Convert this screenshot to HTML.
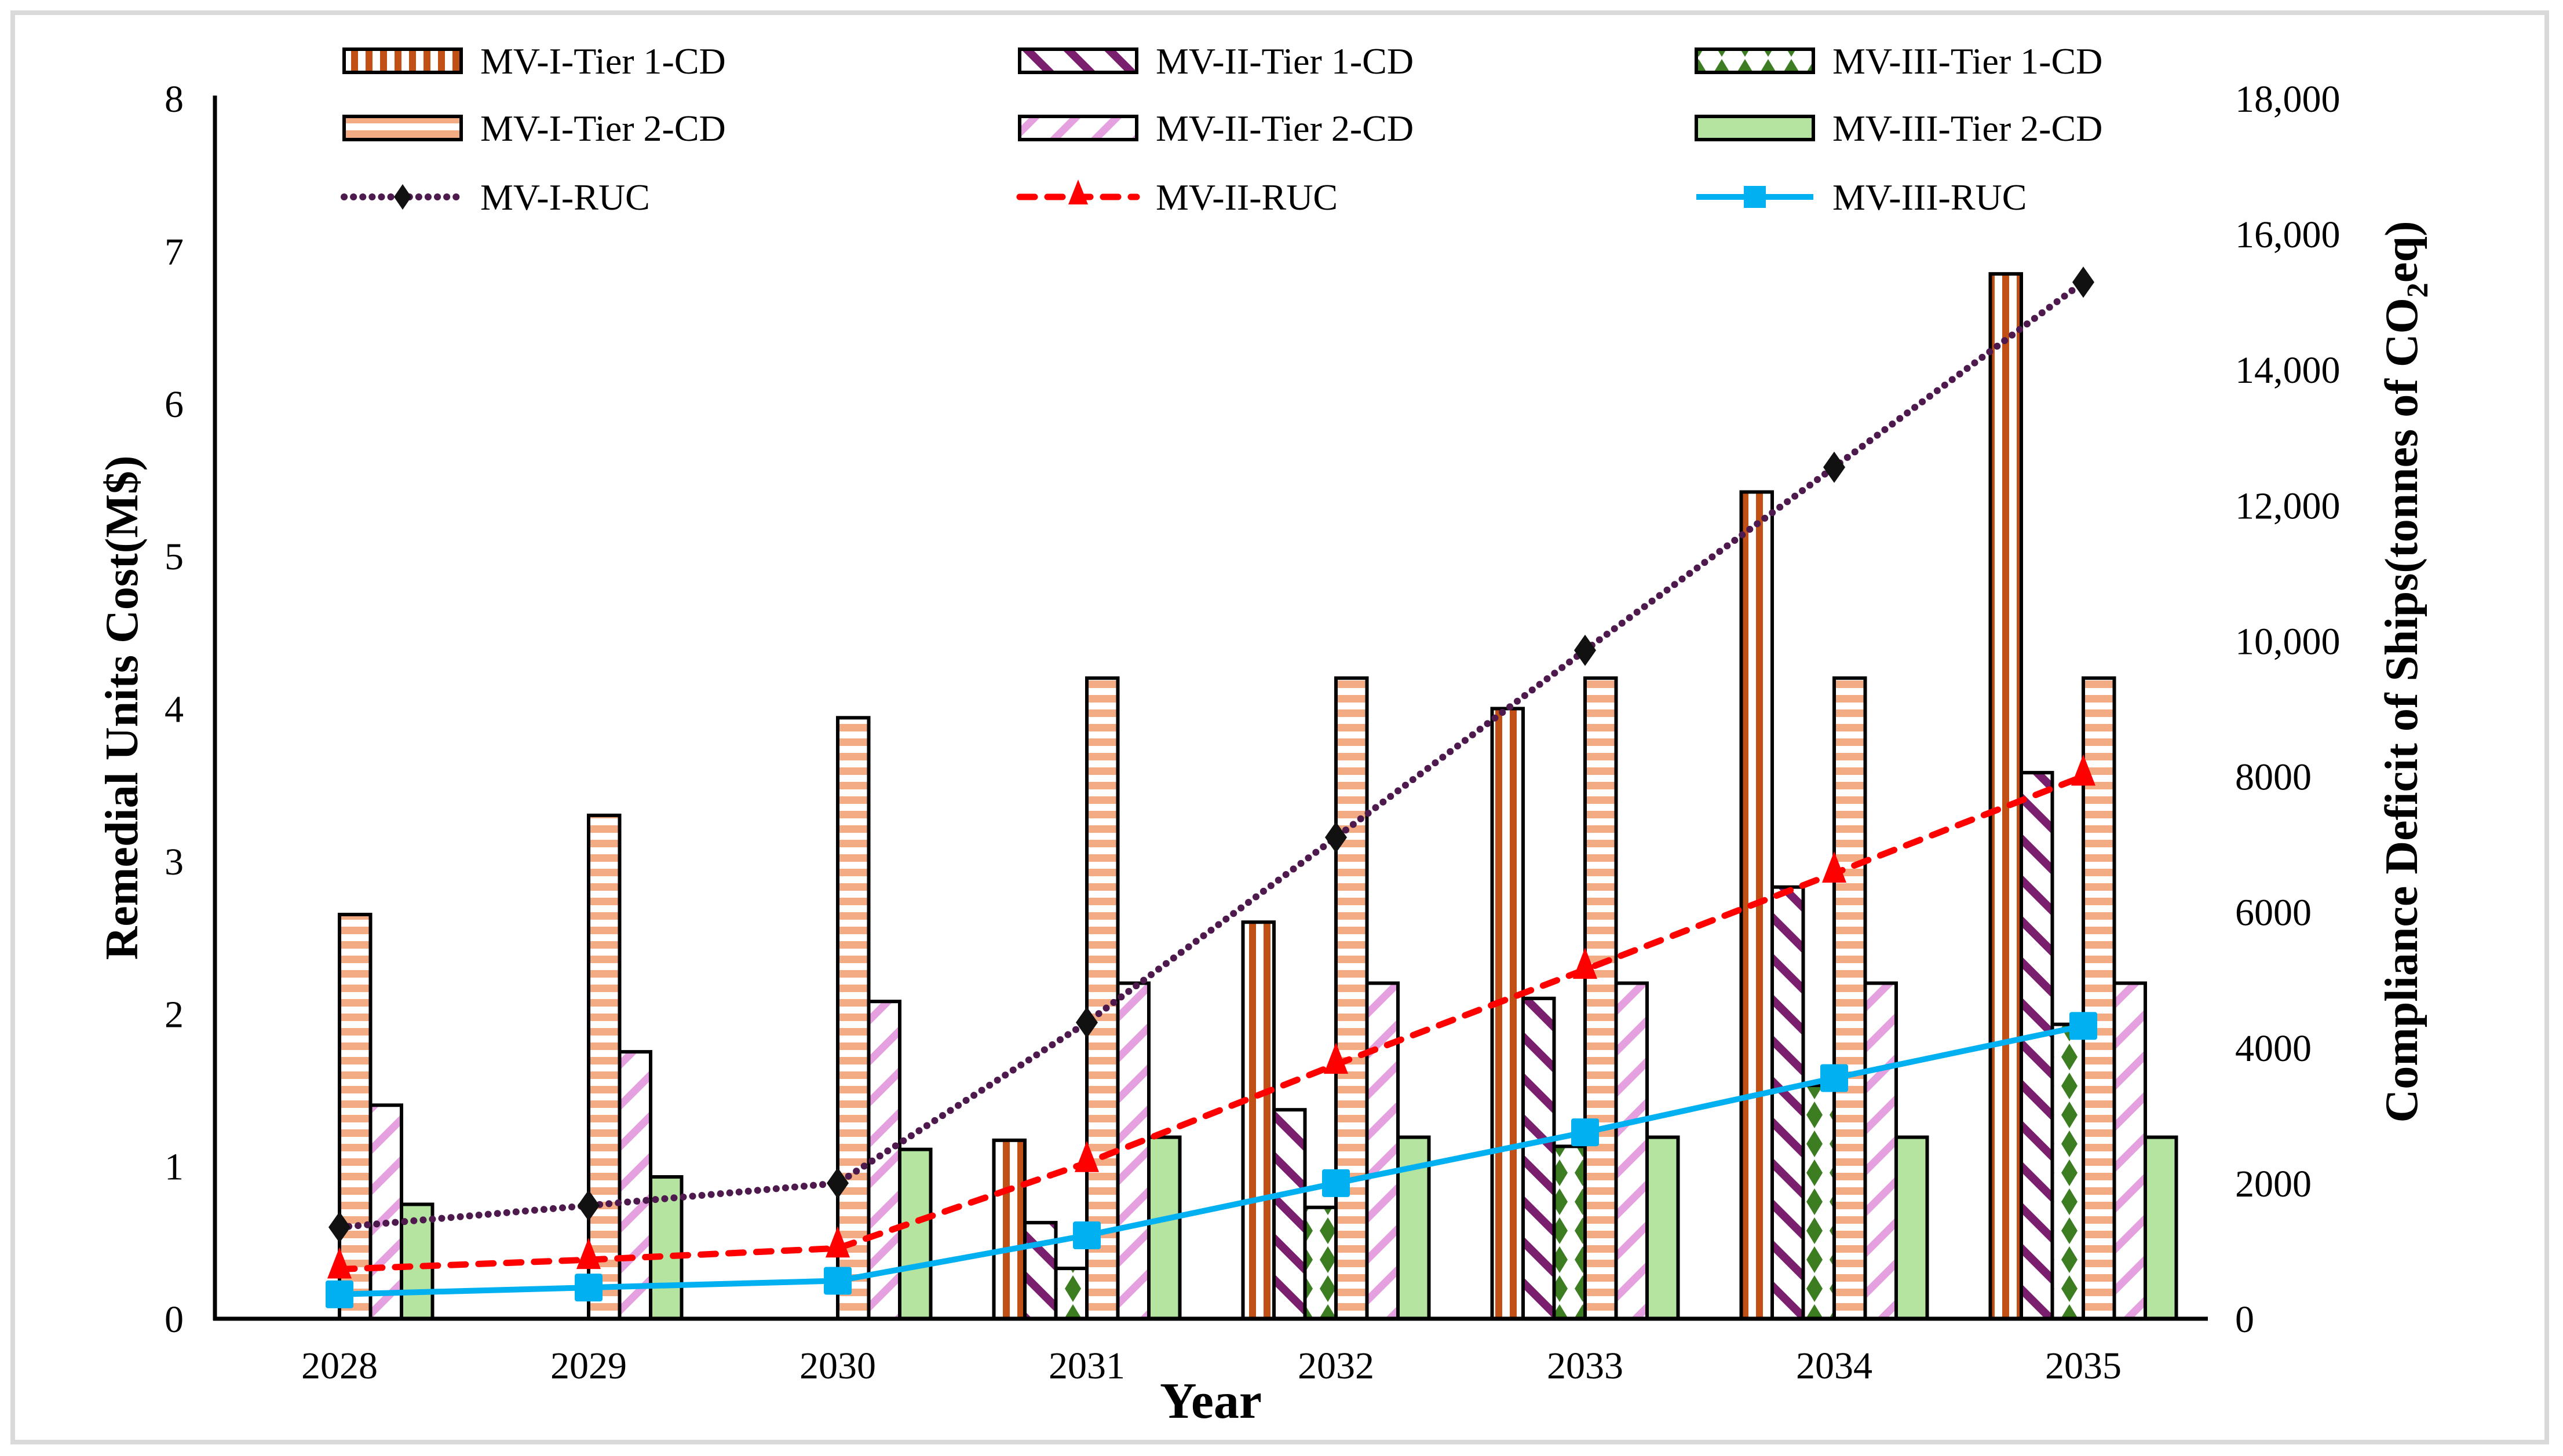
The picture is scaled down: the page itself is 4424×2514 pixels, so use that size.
<!DOCTYPE html>
<html><head><meta charset="utf-8"><style>
html,body{margin:0;padding:0;background:#fff;}
svg{display:block;font-family:"Liberation Serif",serif;}
text{font-family:"Liberation Serif",serif;}
</style></head><body>
<svg id="chart" width="4424" height="2514" viewBox="0 0 4424 2514" xmlns="http://www.w3.org/2000/svg" font-family="Liberation Serif, serif">
<defs>
<pattern id="p-v" patternUnits="userSpaceOnUse" width="25" height="25"><rect width="25" height="25" fill="#fff"/><rect x="6" width="12" height="25" fill="#c05016"/></pattern>
<pattern id="p-d1" patternUnits="userSpaceOnUse" width="50" height="50" patternTransform="rotate(45)"><rect width="50" height="50" fill="#fff"/><rect y="0" width="50" height="14" fill="#7a1f6d"/></pattern>
<pattern id="p-dm" patternUnits="userSpaceOnUse" width="40" height="50"><rect width="40" height="50" fill="#fff"/><polygon points="12,2 26,25 12,48 -2,25" fill="#3d7d22"/><polygon points="52,2 66,25 52,48 38,25" fill="#3d7d22"/></pattern>
<pattern id="p-h" patternUnits="userSpaceOnUse" width="25" height="25"><rect width="25" height="25" fill="#fff"/><rect y="0" width="25" height="13" fill="#f2ab83"/></pattern>
<pattern id="p-d2" patternUnits="userSpaceOnUse" width="50" height="50" patternTransform="rotate(-45)"><rect width="50" height="50" fill="#fff"/><rect y="0" width="50" height="13" fill="#e4a0df"/></pattern>
</defs>
<rect x="22" y="22" width="4374" height="2468" fill="#fff" stroke="#d9d9d9" stroke-width="8"/>
<g id="bars"></g><g id="lines"></g><g id="axes"></g><g id="legend"></g>
</svg>
<script>
const years=['2028','2029','2030','2031','2032','2033','2034','2035'];
const mv1t1=[0,0,0,1.17,2.6,4.0,5.42,6.85];
const mv2t1=[0,0,0,0.63,1.37,2.1,2.83,3.58];
const mv3t1=[0,0,0,0.33,0.73,1.13,1.53,1.93];
const mv1t2=[2.65,3.3,3.94,4.2,4.2,4.2,4.2,4.2];
const mv2t2=[1.4,1.75,2.08,2.2,2.2,2.2,2.2,2.2];
const mv3t2=[0.75,0.93,1.11,1.19,1.19,1.19,1.19,1.19];
const ruc1=[1350,1670,2000,4370,7100,9860,12560,15290];
const ruc2=[730,870,1040,2300,3750,5150,6570,8000];
const ruc3=[360,460,560,1230,2000,2750,3550,4320];
const leftTicks=['0','1','2','3','4','5','6','7','8'];
const rightTicks=['0','2000','4000','6000','8000','10,000','12,000','14,000','16,000','18,000'];

const NS='http://www.w3.org/2000/svg';
const FF='Liberation Serif, serif';
const X0=371,X1=3811,Y0=2277,Y1=170;
const band=(X1-X0)/years.length;
const xc=i=>X0+band*(i+0.5);
const yL=v=>Y0-(v/8)*(Y0-Y1);
const yR=v=>Y0-(v/18000)*(Y0-Y1);
function mk(tag,attrs,parent){const e=document.createElementNS(NS,tag);for(const k in attrs)e.setAttribute(k,attrs[k]);if(tag==='text')e.setAttribute('font-family',FF);parent.appendChild(e);return e;}
const gB=document.getElementById('bars'),gL=document.getElementById('lines'),gA=document.getElementById('axes'),gG=document.getElementById('legend');
const bw=53.5;
const series=[[mv1t1,'url(#p-v)','mv-i-tier1-bar'],[mv2t1,'url(#p-d1)','mv-ii-tier1-bar'],[mv3t1,'url(#p-dm)','mv-iii-tier1-bar'],[mv1t2,'url(#p-h)','mv-i-tier2-bar'],[mv2t2,'url(#p-d2)','mv-ii-tier2-bar'],[mv3t2,'#b5e3a0','mv-iii-tier2-bar']];
series.forEach((s,si)=>{
  s[0].forEach((v,i)=>{
    if(v<=0)return;
    const x=xc(i)-3*bw+si*bw;
    const r=mk('rect',{x:x,y:yL(v),width:bw,height:Y0-yL(v),fill:s[1],stroke:'#000','stroke-width':6},gB);
    
    
  });
});
function line(vals,color,dash,w,name,marker){
  const pts=vals.map((v,i)=>xc(i)+','+yR(v)).join(' ');
  const p=mk('polyline',{points:pts,fill:'none',stroke:color,'stroke-width':w,'stroke-dasharray':dash,'stroke-linecap':'round'},gL);
  
  
  vals.forEach((v,i)=>{
    const m=marker(xc(i),yR(v));
    
    
  });
}
const diamond=(x,y)=>mk('polygon',{points:`${x},${y-27} ${x+19},${y} ${x},${y+27} ${x-19},${y}`,fill:'#111'},gL);
const tri=(x,y)=>mk('polygon',{points:`${x},${y-38} ${x+21},${y+16} ${x-21},${y+16}`,fill:'#f00'},gL);
const sq=(x,y)=>mk('rect',{x:x-24,y:y-24,width:48,height:48,rx:4,fill:'#00b0f0'},gL);
line(ruc1,'#4e1a4e','0.1 16',12,'mv-i-ruc',diamond);
line(ruc2,'#f00','26 22',11,'mv-ii-ruc',tri);
line(ruc3,'#00b0f0','none',10,'mv-iii-ruc',sq);

let a=mk('line',{x1:X0,y1:Y1-5,x2:X0,y2:Y0+3,stroke:'#000','stroke-width':7},gA);

a=mk('line',{x1:X0-3,y1:Y0,x2:X1,y2:Y0,stroke:'#000','stroke-width':7},gA);

leftTicks.forEach(t=>{
  const e=mk('text',{x:317,y:yL(+t)+23,'font-size':66,'text-anchor':'end'},gA);e.textContent=t;
  
});
rightTicks.forEach(t=>{
  const e=mk('text',{x:3858,y:yR(+t.replace(',',''))+23,'font-size':66},gA);e.textContent=t;
  
});
years.forEach((t,i)=>{
  const e=mk('text',{x:xc(i),y:2380,'font-size':66,'text-anchor':'middle'},gA);e.textContent=t;
  
});
let e=mk('text',{x:2090,y:2448,'font-size':88,'font-weight':'bold','text-anchor':'middle'},gA);e.textContent='Year';

e=mk('text',{x:0,y:0,'font-size':80,'font-weight':'bold','text-anchor':'middle',transform:'translate(237,1222) rotate(-90)'},gA);e.textContent='Remedial Units Cost(M$)';

e=mk('text',{x:0,y:0,'font-size':80,'font-weight':'bold','text-anchor':'middle',transform:'translate(4172,1160) rotate(-90)'},gA);
e.innerHTML='Compliance Deficit of Ships(tonnes of CO<tspan font-size="52" dy="18">2</tspan><tspan dy="-18">eq)</tspan>';


const legCols=[594,1760,2928],legRows=[105,221,340];
const legItems=[['MV-I-Tier 1-CD','bar','url(#p-v)'],['MV-II-Tier 1-CD','bar','url(#p-d1)'],['MV-III-Tier 1-CD','bar','url(#p-dm)'],
['MV-I-Tier 2-CD','bar','url(#p-h)'],['MV-II-Tier 2-CD','bar','url(#p-d2)'],['MV-III-Tier 2-CD','bar','#b5e3a0'],
['MV-I-RUC','l1'],['MV-II-RUC','l2'],['MV-III-RUC','l3']];
legItems.forEach((it,k)=>{
  const x=legCols[k%3],y=legRows[Math.floor(k/3)];
  const g=mk('g',{},gG);
  
  
  if(it[1]==='bar'){mk('rect',{x:x,y:y-20,width:202,height:40,fill:it[2],stroke:'#000','stroke-width':6},g);}
  else if(it[1]==='l1'){mk('line',{x1:x,y1:y,x2:x+202,y2:y,stroke:'#4e1a4e','stroke-width':12,'stroke-dasharray':'0.1 16','stroke-linecap':'round'},g);mk('polygon',{points:`${x+101},${y-22} ${x+116},${y} ${x+101},${y+22} ${x+86},${y}`,fill:'#111'},g);}
  else if(it[1]==='l2'){mk('line',{x1:x,y1:y,x2:x+202,y2:y,stroke:'#f00','stroke-width':11,'stroke-dasharray':'26 22','stroke-linecap':'round'},g);mk('polygon',{points:`${x+101},${y-30} ${x+118},${y+13} ${x+84},${y+13}`,fill:'#f00'},g);}
  else {mk('line',{x1:x,y1:y,x2:x+202,y2:y,stroke:'#00b0f0','stroke-width':10},g);mk('rect',{x:x+82,y:y-19,width:38,height:38,fill:'#00b0f0'},g);}
  const t=mk('text',{x:x+235,y:y+22,'font-size':64},g);t.textContent=it[0];
});
</script>
</body></html>
